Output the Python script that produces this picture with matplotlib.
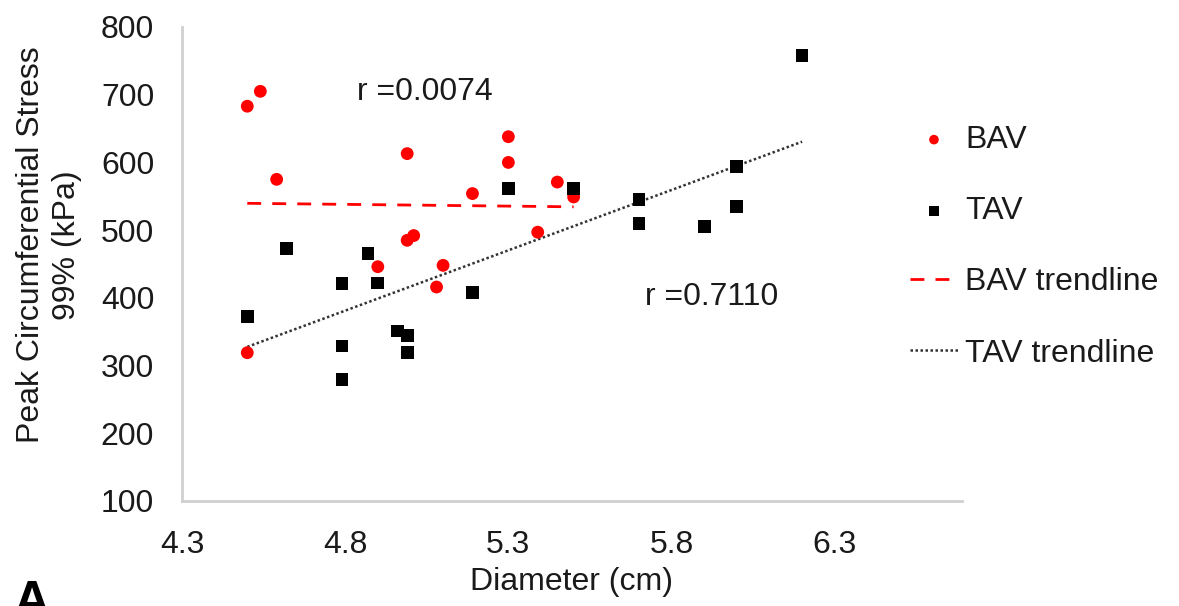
import matplotlib
matplotlib.use("Agg")
import matplotlib.pyplot as plt
import numpy as np

# BAV group (diameter cm, peak stress kPa)
bav_diam = [4.50, 4.54, 4.59, 4.99, 5.30, 5.30, 5.19, 5.45, 4.99, 5.01,
            4.90, 5.10, 5.08, 5.39, 5.50, 4.50]
bav_stress = [683, 705, 575, 613, 638, 600, 554, 571, 485, 492,
              446, 448, 416, 497, 549, 319]

# TAV group
tav_diam = [5.30, 4.62, 4.87, 4.79, 4.90, 5.19, 4.50, 4.96, 4.99, 4.99,
            4.79, 4.79, 5.50, 5.70, 5.70, 5.90, 6.00, 6.00, 6.20]
tav_stress = [561, 473, 465, 421, 422, 408, 372, 351, 345, 319,
              329, 280, 561, 545, 510, 505, 594, 535, 758]

x_ticks = [4.3, 4.8, 5.3, 5.8, 6.3]
y_ticks = [100, 200, 300, 400, 500, 600, 700, 800]
r_labels = ["r =0.0074", "r =0.7110"]

plt.rcParams['font.family'] = ['Liberation Sans', 'DejaVu Sans']
text_col = '#1a1a1a'
axis_col = '#d0d0d0'
fs = 23

fig = plt.figure(figsize=(11.79, 6.06), dpi=100)
ax = fig.add_axes([182 / 1179, 1 - 501 / 606, 780 / 1179, 474 / 606])

ax.scatter(bav_diam, bav_stress, s=85, marker='o', color='#ff0000',
           edgecolors='none', label='BAV', zorder=3)
ax.scatter(tav_diam, tav_stress, s=85, marker='s', color='black',
           edgecolors='none', label='TAV', zorder=3)

# linear trendlines fitted from the data
bx = np.array([min(bav_diam), max(bav_diam)])
b_coef = np.polyfit(bav_diam, bav_stress, 1)
ax.plot(bx, np.polyval(b_coef, bx), color='#ff0000', linestyle=(0, (5, 4)),
        linewidth=2, label='BAV trendline', zorder=2)

tx = np.array([min(tav_diam), max(tav_diam)])
t_coef = np.polyfit(tav_diam, tav_stress, 1)
ax.plot(tx, np.polyval(t_coef, tx), color='#333333', linestyle=(0, (1, 1)),
        linewidth=1.8, label='TAV trendline', zorder=2)

ax.text(4.837, 704, r_labels[0], fontsize=fs, color=text_col, va='center')
ax.text(5.72, 401, r_labels[1], fontsize=fs, color=text_col, va='center')

ax.set_xlim(4.3, 6.69)
ax.set_ylim(100, 800)
ax.set_xticks(x_ticks)
ax.set_xticklabels([f"{t:.1f}" for t in x_ticks])
ax.set_yticks(y_ticks)

for s in ['top', 'right']:
    ax.spines[s].set_visible(False)
for s in ['left', 'bottom']:
    ax.spines[s].set_color(axis_col)
    ax.spines[s].set_linewidth(2)
ax.tick_params(length=0, labelsize=fs, colors=text_col, pad=20)
ax.tick_params(axis='x', pad=21)

fig.text(49 / 1179, 1 - 245 / 606, "Peak Circumferential Stress\n99% (kPa)",
         rotation=90, ha='center', va='center', multialignment='center',
         fontsize=fs, color=text_col, linespacing=1.3)
fig.text(572 / 1179, 1 - 582 / 606, "Diameter (cm)", ha='center', va='center',
         fontsize=fs, color=text_col)
fig.text(14 / 1179, 1 - 580 / 606, "A", ha='left', va='top',
         fontsize=36, fontweight='bold', color='black')

leg = ax.legend(loc='upper left', bbox_to_anchor=(910 / 1179, 1 - 125 / 606),
                bbox_transform=fig.transFigure, frameon=False, fontsize=fs,
                handlelength=1.5, handletextpad=0.22, labelspacing=1.29,
                borderpad=0, borderaxespad=0, scatterpoints=1, markerscale=0.75)
for t in leg.get_texts():
    t.set_color(text_col)

fig.savefig("out.png", dpi=100)
